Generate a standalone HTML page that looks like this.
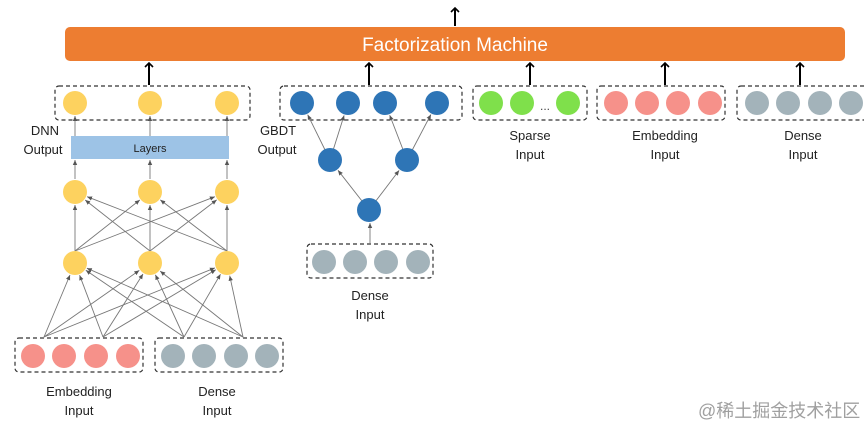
<!DOCTYPE html>
<html><head><meta charset="utf-8"><style>
html,body{margin:0;padding:0;background:#fff;width:864px;height:427px;overflow:hidden}
svg text{font-family:"Liberation Sans","Noto Sans CJK SC",sans-serif}
</style></head><body>
<svg id="s" width="864" height="427" viewBox="0 0 864 427" xmlns="http://www.w3.org/2000/svg">
<defs>
<marker id="a" markerWidth="6" markerHeight="6" refX="5" refY="3" orient="auto" markerUnits="userSpaceOnUse"><path d="M0,0.8 L5,3 L0,5.2 Z" fill="#555"/></marker>
<marker id="b" markerWidth="10" markerHeight="10" refX="5" refY="5" orient="auto" markerUnits="userSpaceOnUse"><path d="M1,1 L5,5 L1,9" fill="none" stroke="#000" stroke-width="1.6"/></marker>
</defs>
<rect x="65" y="27" width="780" height="34" rx="5" fill="#ed7d31"/>
<text x="455" y="51" font-size="19" fill="#fff" text-anchor="middle">Factorization Machine</text>
<g stroke="#000" stroke-width="2" marker-end="url(#b)">
<line x1="455" y1="26" x2="455" y2="8"/>
<line x1="149" y1="85" x2="149" y2="63"/>
<line x1="369" y1="85" x2="369" y2="63"/>
<line x1="530" y1="85" x2="530" y2="63"/>
<line x1="665" y1="85" x2="665" y2="63"/>
<line x1="800" y1="85" x2="800" y2="63"/>
</g>
<g fill="none" stroke="#333" stroke-width="1.2" stroke-dasharray="4,3">
<rect x="55" y="86" width="195" height="34" rx="4"/>
<rect x="280" y="86" width="182" height="34" rx="4"/>
<rect x="473" y="86" width="114" height="34" rx="4"/>
<rect x="597" y="86" width="128" height="34" rx="4"/>
<rect x="737" y="86" width="132" height="34" rx="4"/>
<rect x="15" y="338" width="128" height="34" rx="4"/>
<rect x="155" y="338" width="128" height="34" rx="4"/>
<rect x="307" y="244" width="126" height="34" rx="4"/>
</g>
<rect x="71" y="136" width="158" height="23" fill="#9dc3e6"/>
<text x="150" y="152" font-size="11" fill="#222" text-anchor="middle">Layers</text>
<g id="lines" stroke="#777" stroke-width="0.9"></g>
<g id="nodes"></g>
<g font-size="13" fill="#222" text-anchor="middle">
<text x="45" y="135">DNN</text><text x="43" y="154">Output</text>
<text x="278" y="135">GBDT</text><text x="277" y="154">Output</text>
<text x="530" y="140">Sparse</text><text x="530" y="159">Input</text>
<text x="665" y="140">Embedding</text><text x="665" y="159">Input</text>
<text x="803" y="140">Dense</text><text x="803" y="159">Input</text>
<text x="370" y="300">Dense</text><text x="370" y="319">Input</text>
<text x="79" y="396">Embedding</text><text x="79" y="415">Input</text>
<text x="217" y="396">Dense</text><text x="217" y="415">Input</text>
</g>
<text x="545" y="110" font-size="12" fill="#444" text-anchor="middle">...</text>
<text x="698" y="417" font-size="18" fill="#a0a0a0" font-family="'Noto Sans CJK SC',sans-serif">@稀土掘金技术社区</text>
</svg>
<script>
var NS="http://www.w3.org/2000/svg",L=document.getElementById('lines'),N=document.getElementById('nodes');
function c(x,y,f){var e=document.createElementNS(NS,'circle');e.setAttribute('cx',x);e.setAttribute('cy',y);e.setAttribute('r',12);e.setAttribute('fill',f);N.appendChild(e);}
function l(x1,y1,x2,y2,r){var dx=x2-x1,dy=y2-y1,d=Math.hypot(dx,dy);var ex=x2-dx/d*r,ey=y2-dy/d*r;var e=document.createElementNS(NS,'line');e.setAttribute('x1',x1);e.setAttribute('y1',y1);e.setAttribute('x2',ex.toFixed(1));e.setAttribute('y2',ey.toFixed(1));e.setAttribute('marker-end','url(#a)');L.appendChild(e);}
var Y='#fdd25f',B='#2e75b6',P='#f6918a',G='#a3b3ba',GR='#7fe04b';
var xs=[75,150,227];
xs.forEach(function(x){c(x,103,Y);c(x,192,Y);c(x,263,Y);l(x,136,x,116,0);l(x,179,x,160,0);});
[44,103,184,243].forEach(function(sx){xs.forEach(function(x){l(sx,337,x,263,13);});});
xs.forEach(function(sx){xs.forEach(function(x){l(sx,251,x,192,13);});});
[302,348,385,437].forEach(function(x){c(x,103,B);});
c(330,160,B);c(407,160,B);c(369,210,B);
l(330,160,302,103,13);l(330,160,348,103,13);l(407,160,385,103,13);l(407,160,437,103,13);
l(369,210,330,160,13);l(369,210,407,160,13);l(370,244,370,223,0);
[491,522,568].forEach(function(x){c(x,103,GR);});
[616,647,678,710].forEach(function(x){c(x,103,P);});
[757,788,820,851].forEach(function(x){c(x,103,G);});
[324,355,386,418].forEach(function(x){c(x,262,G);});
[33,64,96,128].forEach(function(x){c(x,356,P);});
[173,204,236,267].forEach(function(x){c(x,356,G);});
</script>
</body></html>
